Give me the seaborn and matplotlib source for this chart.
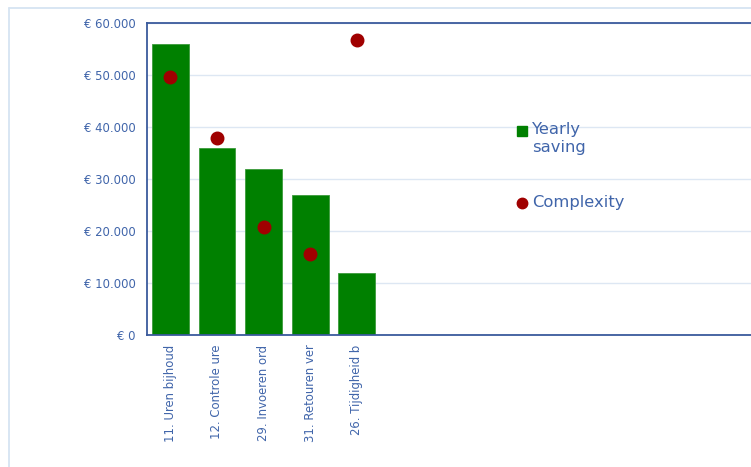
import matplotlib
matplotlib.use("Agg")
import matplotlib.pyplot as plt
from matplotlib.lines import Line2D
import seaborn as sns
import pandas as pd

categories = ["11. Uren bijhoud", "12. Controle ure", "29. Invoeren ord", "31. Retouren ver", "26. Tijdigheid b"]
yearly_saving = [56000, 36000, 32000, 27000, 12000]
complexity = [49600, 37900, 20800, 15600, 56700]
y_ticks = [0, 10000, 20000, 30000, 40000, 50000, 60000]
y_tick_labels = ["€ 0", "€ 10.000", "€ 20.000", "€ 30.000", "€ 40.000", "€ 50.000", "€ 60.000"]
legend_labels = ["Yearly\nsaving", "Complexity"]

df = pd.DataFrame({"task": categories, "saving": yearly_saving, "complexity": complexity})

sns.set_theme(style="white")
plt.rcParams["font.family"] = ["DejaVu Sans"]

text_col = "#4065aa"
spine_col = "#3a5a9c"
green = "#008000"
red = "#a00000"

W, H = 751, 467
fig = plt.figure(figsize=(7.51, 4.67), dpi=100)
ax = fig.add_axes([147 / W, 132 / H, 620 / W, 312 / H])

sns.barplot(data=df, x="task", y="saving", order=categories, color=green,
            saturation=1, width=0.79, ax=ax, edgecolor="#3c9a3c", linewidth=0.6)
sns.pointplot(data=df, x="task", y="complexity", order=categories, color=red,
              linestyle="none", markers="o", markersize=8, ax=ax, errorbar=None)

ax.set_xlim(-0.5, 12.8)
ax.set_ylim(0, 60000)
ax.set_yticks(y_ticks)
ax.set_yticklabels(y_tick_labels)
ax.set_xlabel("")
ax.set_ylabel("")
ax.grid(axis="y", color="#dde7f3", linewidth=1)
ax.set_axisbelow(True)
for s in ["left", "top", "bottom"]:
    ax.spines[s].set_color(spine_col)
    ax.spines[s].set_linewidth(1.3)
ax.spines["right"].set_visible(False)
ax.tick_params(axis="y", length=0, pad=8, labelsize=8.4, labelcolor=text_col)
ax.tick_params(axis="x", length=0, pad=7, labelsize=8.4, labelcolor=text_col)
for lbl in ax.get_xticklabels():
    lbl.set_rotation(90)
    lbl.set_va("top")
    lbl.set_ha("center")

# legend, drawn by hand so the handle sits on the first text line
fig.add_artist(Line2D([522 / W], [1 - 131 / H], marker="s", color=green, linestyle="none",
                      markersize=6.5, transform=fig.transFigure))
fig.text(532 / W, 1 - 122 / H, legend_labels[0], color=text_col, fontsize=11.8,
         va="top", ha="left", linespacing=1.25)
fig.add_artist(Line2D([522 / W], [1 - 203 / H], marker="o", color=red, linestyle="none",
                      markersize=7.5, transform=fig.transFigure))
fig.text(532 / W, 1 - 203 / H, legend_labels[1], color=text_col, fontsize=11.8,
         va="center", ha="left")

# outer light frame
fig.add_artist(Line2D([9 / W, 1], [1 - 8 / H, 1 - 8 / H], color="#d6e4f2", linewidth=1.3, transform=fig.transFigure))
fig.add_artist(Line2D([9 / W, 9 / W], [0, 1 - 8 / H], color="#d6e4f2", linewidth=1.3, transform=fig.transFigure))

fig.savefig("out.png", dpi=100)
